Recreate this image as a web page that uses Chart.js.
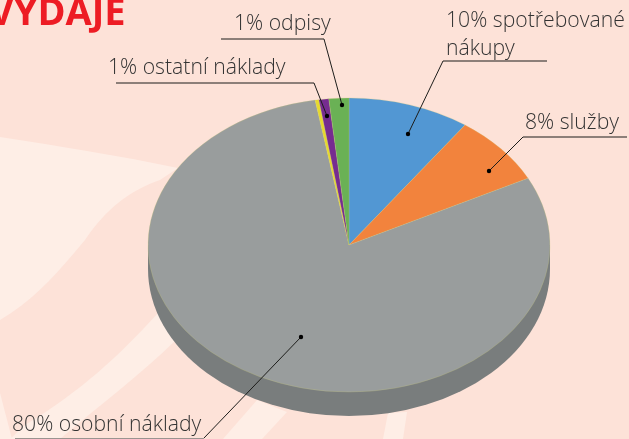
<!DOCTYPE html>
<html lang="cs">
<head>
<meta charset="utf-8">
<title>Výdaje</title>
<style>
  html, body { margin: 0; padding: 0; background: #fde2d8; }
  #plocha { position: relative; width: 629px; height: 439px; overflow: hidden; }
  #pozadi { position: absolute; left: 0; top: 0; }
  canvas { position: absolute; left: 0; top: 0; }
</style>
<script src="https://cdn.jsdelivr.net/npm/chart.js@4"></script>
</head>
<body>
<div id="plocha">
  <svg id="pozadi" width="629" height="439" viewBox="0 0 629 439">
    <path d="M0 137 C60 146 120 156 178 168 L160 180 C130 190 105 210 85 240 C60 270 35 300 0 320 Z" fill="#feeee6"/>
    <path d="M158 313 C120 355 80 392 25 425 L10 439 L60 439 C100 405 140 375 176 340 Z" fill="#feeee6"/>
    <path d="M0 393 L12 439 L0 439 Z" fill="#feeee6"/>
    <path d="M257 400 L223 439 L262 439 L287 412 Z" fill="#feeee6"/>
    <path d="M388 413 L383 439 L403 439 L407 412 Z" fill="#feeee6"/>
  </svg>
  <canvas id="ch-vydaje" width="629" height="439"></canvas>
</div>
<script>
const kategorie = ["spotřebované nákupy", "služby", "osobní náklady", "jiné", "ostatní náklady", "odpisy"];
const hodnoty = [9.8, 7.7, 79.8, 0.3, 0.8, 1.6];
const barvy = ["#5297d3", "#f2833d", "#999d9d", "#e6d92e", "#762c90", "#6ab155"];

// popisky: text, kotva textu, lomena odkazova cara
const popisky = [
  { radky: ["VÝDAJE"], x: -11, y: 24.5, font: "bold 38px 'Open Sans'", barva: "#ed1c24" },
  { radky: ["1% odpisy"], x: 234, y: 29.5 },
  { radky: ["1% ostatní náklady"], x: 108, y: 73.5 },
  { radky: ["10% spotřebované", "nákupy"], x: 446, y: 26.5 },
  { radky: ["8% služby"], x: 525, y: 128.5 },
  { radky: ["80% osobní náklady"], x: 12, y: 431 }
];
const cary = [
  [[221, 39], [324, 39], [342, 105]],
  [[116, 83], [314, 83], [327, 116]],
  [[547, 61], [443, 61], [408, 134]],
  [[627, 137], [523, 137], [489, 171]],
  [[15, 438.5], [204, 438.5]],
  [[204, 438], [301, 337]]
];

const STRED_X = 349, STRED_Y = 245, POLOMER = 201, POLOMER_Y = 147, HLOUBKA = 24;

const pluginElipsa = {
  id: "elipsa3d",
  beforeDatasetsDraw(chart) {
    const { ctx } = chart;
    // bocni stena kolace
    ctx.save();
    ctx.fillStyle = "#797d7d";
    ctx.beginPath();
    ctx.ellipse(STRED_X, STRED_Y + HLOUBKA, POLOMER, POLOMER_Y, 0, 0, Math.PI);
    ctx.lineTo(STRED_X - POLOMER, STRED_Y);
    ctx.lineTo(STRED_X + POLOMER, STRED_Y);
    ctx.closePath();
    ctx.fill();
    ctx.restore();

    // kruh z Chart.js smackneme na elipsu
    const obluk = chart.getDatasetMeta(0).data[0];
    const k = POLOMER / obluk.outerRadius;
    ctx.save();
    ctx.translate(STRED_X, STRED_Y);
    ctx.scale(k, k * POLOMER_Y / POLOMER);
    ctx.translate(-obluk.x, -obluk.y);
  },
  afterDatasetsDraw(chart) {
    const { ctx } = chart;
    ctx.restore();

    ctx.save();
    ctx.fillStyle = "#000";
    ctx.lineWidth = 1;
    cary.forEach((c, i) => {
      ctx.strokeStyle = i === 4 ? "#9a9490" : "#1d1d1b";
      ctx.beginPath();
      c.forEach((b, j) => j ? ctx.lineTo(b[0], b[1]) : ctx.moveTo(b[0], b[1]));
      ctx.stroke();
      if (i !== 4) {
        const konec = c[c.length - 1];
        ctx.beginPath();
        ctx.arc(konec[0], konec[1], 2.2, 0, Math.PI * 2);
        ctx.fill();
      }
    });

    ctx.textBaseline = "alphabetic";
    popisky.forEach(p => {
      ctx.font = p.font || "300 21.2px 'Open Sans'";
      ctx.fillStyle = p.barva || "#333333";
      p.radky.forEach((r, i) => ctx.fillText(r, p.x, p.y + i * 28));
    });
    ctx.restore();
  }
};

new Chart(document.getElementById("ch-vydaje"), {
  type: "pie",
  data: {
    labels: kategorie,
    datasets: [{
      data: hodnoty,
      backgroundColor: barvy,
      borderColor: "#c9c973",
      borderWidth: 0.3
    }]
  },
  options: {
    responsive: false,
    animation: false,
    layout: { padding: 10 },
    plugins: {
      legend: { display: false },
      tooltip: { enabled: false }
    }
  },
  plugins: [pluginElipsa]
});
</script>
</body>
</html>
